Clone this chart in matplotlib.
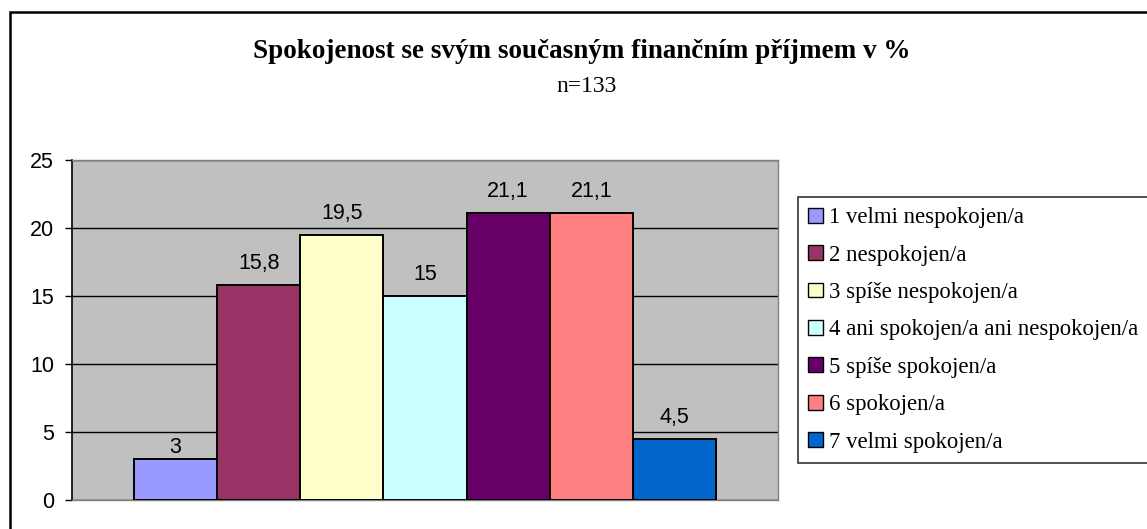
import matplotlib
matplotlib.use("Agg")
import matplotlib.pyplot as plt
from matplotlib.patches import Rectangle, Patch

categories = ["1 velmi nespokojen/a", "2 nespokojen/a", "3 spíše nespokojen/a",
              "4 ani spokojen/a ani nespokojen/a", "5 spíše spokojen/a",
              "6 spokojen/a", "7 velmi spokojen/a"]
values = [3, 15.8, 19.5, 15, 21.1, 21.1, 4.5]
value_labels = ["3", "15,8", "19,5", "15", "21,1", "21,1", "4,5"]
colors = ["#9999FF", "#993366", "#FFFFCC", "#CCFFFF", "#660066", "#FF8080", "#0066CC"]
yticks = [0, 5, 10, 15, 20, 25]

# label gap above bar top (points), style only
label_gap_pt = [4.3, 11.5, 11.5, 11.5, 11.5, 11.5, 11.5]

W, H = 1147, 529
fig = plt.figure(figsize=(W / 100, H / 100), dpi=100)
fig.patch.set_facecolor("white")

# outer chart-area border (right/bottom cut by image edge)
fig.patches.append(Rectangle((10 / W, -0.2), 2.0, (1 - 12 / H) + 0.2,
                             transform=fig.transFigure, fill=False,
                             edgecolor="black", linewidth=1.8, clip_on=False))

ax = fig.add_axes([72 / W, (H - 500) / H, 706 / W, 340 / H])
ax.set_facecolor("#C0C0C0")
xs = list(range(len(values)))
ax.bar(xs, values, width=1.0, color=colors, edgecolor="black", linewidth=1.4, zorder=3)
for x, v, lab, g in zip(xs, values, value_labels, label_gap_pt):
    ax.annotate(lab, (x, v), xytext=(0, g), textcoords="offset points",
                ha="center", va="baseline", fontsize=15.5, family="Liberation Sans", zorder=4)

ax.set_xlim(-1.245, 7.245)
ax.set_ylim(0, 25)
ax.set_yticks(yticks)
ax.set_yticklabels([str(t) for t in yticks], family="Liberation Sans", fontsize=15.5)
ax.set_xticks([])
ax.yaxis.grid(True, color="black", linewidth=1.0, zorder=1)
ax.set_axisbelow(True)
ax.tick_params(axis="y", direction="out", length=5, width=1, color="black", pad=8)
for s in ["top", "right", "bottom"]:
    ax.spines[s].set_color("#808080")
    ax.spines[s].set_linewidth(1.0)
ax.spines["left"].set_color("black")
ax.spines["left"].set_linewidth(1.2)

fig.text(582 / W, 1 - 51 / H, "Spokojenost se svým současným finančním příjmem v %",
         ha="center", va="center", fontsize=19.5, fontweight="bold", family="Liberation Serif")
fig.text(587 / W, 1 - 87 / H, "n=133", ha="center", va="center",
         fontsize=17, family="Liberation Serif")

handles = [Patch(facecolor=c, edgecolor="black", linewidth=1.0) for c in colors]
leg = fig.legend(handles, categories, loc="upper left",
                 bbox_to_anchor=(798 / W, 1 - 197 / H, 365 / W, 0), mode="expand",
                 prop={"family": "Liberation Serif", "size": 16.4},
                 frameon=True, fancybox=False, edgecolor="black",
                 handlelength=0.63, handleheight=0.63, handletextpad=0.27,
                 labelspacing=0.72, borderpad=0.45, borderaxespad=0)
leg.get_frame().set_linewidth(1.2)

fig.savefig("out.png", dpi=100)
